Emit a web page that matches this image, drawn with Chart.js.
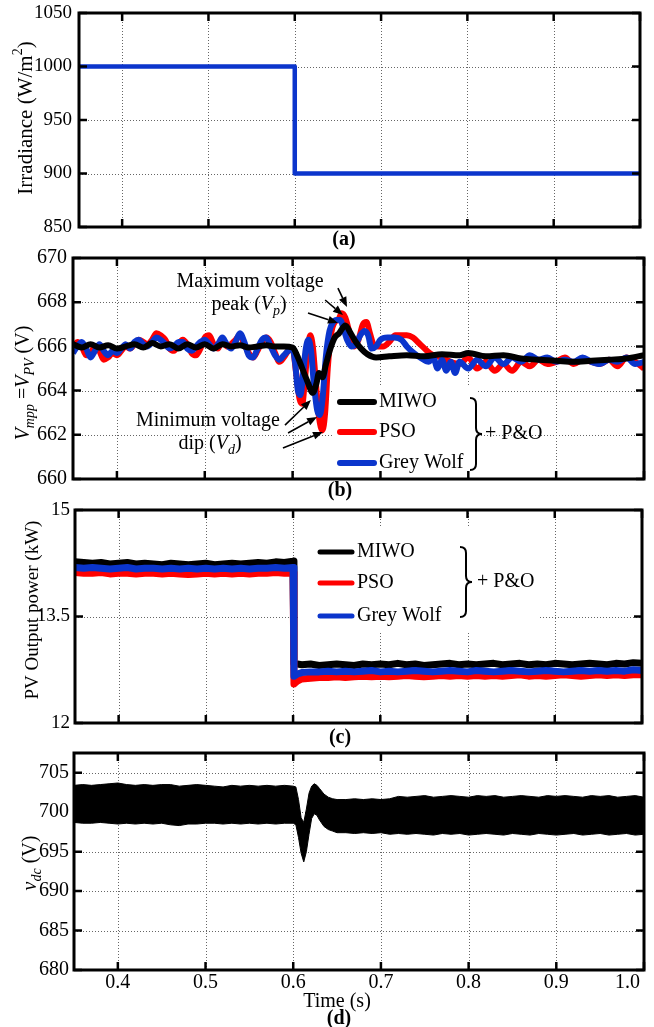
<!DOCTYPE html>
<html><head><meta charset="utf-8">
<title>PV MPPT comparison</title>
<script src="https://cdn.jsdelivr.net/npm/chart.js@4.4.1/dist/chart.umd.min.js"></script>
<style>
html,body{margin:0;padding:0;background:#fff;}
body{width:654px;height:1027px;position:relative;overflow:hidden;}
canvas{position:absolute;left:0;}
</style></head><body>
<canvas id="pa" width="654" height="252" style="top:0px"></canvas>
<canvas id="pb" width="654" height="258" style="top:245px"></canvas>
<canvas id="pc" width="654" height="253" style="top:497px"></canvas>
<canvas id="pd" width="654" height="287" style="top:740px"></canvas>
<script>
// ---------------- DATA ----------------
const timeTicks = [0.4,0.5,0.6,0.7,0.8,0.9,1.0];

// (a) irradiance
const irrTime  = [0.35, 0.6, 0.6, 1.0];
const irrValue = [1000, 1000, 900, 900];
const irrTicks = [850, 900, 950, 1000, 1050];

// (b) Vmpp = Vpv
const vTicks = [660, 662, 664, 666, 668, 670];
const tMIWO = [0.35,0.36,0.37,0.38,0.39,0.40,0.41,0.42,0.43,0.44,0.45,0.46,0.47,0.48,0.49,0.50,0.51,0.52,0.53,0.54,0.55,0.56,0.57,0.58,0.59,0.60,
  0.605,0.611,0.617,0.623,0.627,0.630,0.634,0.638,0.643,0.648,0.653,0.660,0.666,0.672,0.678,0.685,0.695,
  0.71,0.73,0.75,0.77,0.79,0.80,0.82,0.84,0.86,0.88,0.90,0.92,0.94,0.96,0.98,1.00];
const vMIWO = [666.1,665.95,666.1,665.95,666.05,665.9,666.0,666.1,665.95,666.15,666.0,666.1,665.9,666.1,665.95,666.1,665.9,666.1,666.0,666.05,665.95,666.0,666.05,666.0,666.0,665.95,
  665.6,665.0,664.4,663.9,664.3,664.8,664.6,665.2,665.9,666.4,666.6,666.95,666.6,666.2,665.9,665.65,665.5,
  665.55,665.6,665.55,665.65,665.6,665.7,665.55,665.6,665.45,665.4,665.35,665.3,665.35,665.4,665.45,665.6];
const tPSO = [0.35,0.355,0.36,0.365,0.37,0.375,0.38,0.385,0.39,0.395,
  0.40,0.405,0.41,0.415,0.42,0.425,0.43,0.435,0.44,0.445,
  0.45,0.455,0.46,0.465,0.47,0.475,0.48,0.485,0.49,0.495,
  0.50,0.505,0.51,0.515,0.52,0.525,0.53,0.535,0.54,0.545,
  0.55,0.555,0.56,0.565,0.57,0.575,0.58,0.585,0.59,0.595,
  0.60,0.604,0.608,0.611,0.614,0.617,0.62,0.623,0.626,0.63,
  0.634,0.637,0.64,0.644,0.648,0.652,0.656,0.66,0.665,0.67,
  0.675,0.68,0.684,0.688,0.692,0.697,0.703,0.71,0.717,0.724,
  0.73,0.737,0.745,0.753,0.76,0.77,0.78,0.79,0.80,0.81,
  0.82,0.83,0.84,0.85,0.86,0.87,0.88,0.89,0.90,0.91,
  0.92,0.93,0.94,0.95,0.96,0.97,0.98,0.99,1.00];
const vPSO = [665.9,666.2,666.0,665.6,665.7,666.0,665.8,665.4,665.5,665.7,
  665.6,665.8,666.0,665.9,666.1,666.3,666.2,666.1,666.3,666.6,
  666.5,666.3,665.9,665.8,666.1,666.3,666.1,665.7,665.6,665.9,
  666.4,666.5,666.1,665.9,666.3,666.0,666.1,666.3,666.5,666.1,
  665.7,665.5,665.8,666.2,666.4,666.2,665.7,665.3,665.5,665.8,
  665.9,664.8,663.6,663.4,664.5,665.8,666.5,666.0,664.6,662.8,
  662.2,663.0,665.0,666.6,667.1,667.2,667.5,667.3,666.6,666.0,
  666.3,667.0,667.1,666.6,666.1,666.0,666.0,666.2,666.5,666.5,
  666.5,666.4,666.1,665.8,665.6,665.5,665.3,665.2,665.5,665.0,
  665.3,664.9,665.2,664.9,665.3,665.1,665.4,665.2,665.3,665.5,
  665.2,665.4,665.3,665.2,665.4,665.1,665.5,665.3,665.0];
const tGWO = [0.35,0.355,0.36,0.365,0.37,0.375,0.38,0.385,0.39,0.395,
  0.40,0.405,0.41,0.415,0.42,0.425,0.43,0.435,0.44,0.445,
  0.45,0.455,0.46,0.465,0.47,0.475,0.48,0.485,0.49,0.495,
  0.50,0.505,0.51,0.515,0.52,0.525,0.53,0.535,0.54,0.545,
  0.55,0.555,0.56,0.565,0.57,0.575,0.58,0.585,0.59,0.595,
  0.60,0.603,0.606,0.609,0.612,0.615,0.618,0.621,0.624,0.628,
  0.631,0.634,0.638,0.642,0.646,0.65,0.654,0.658,0.662,0.667,
  0.672,0.677,0.682,0.686,0.69,0.695,0.70,0.708,0.716,0.724,
  0.73,0.738,0.745,0.755,0.76,0.765,0.77,0.775,0.78,0.785,
  0.79,0.80,0.81,0.82,0.83,0.84,0.85,0.86,0.87,0.88,
  0.89,0.90,0.91,0.92,0.93,0.94,0.95,0.96,0.97,0.98,
  0.99,1.00];
const vGWO = [665.7,666.0,666.2,665.9,665.5,665.8,666.1,665.8,665.6,665.8,
  665.7,665.9,666.1,665.9,666.2,666.3,666.1,666.0,666.2,666.4,
  666.3,666.1,665.9,666.0,666.2,666.2,665.9,665.8,666.0,666.2,
  666.3,666.1,665.9,666.1,666.4,666.1,665.9,666.2,666.6,666.2,
  665.6,665.5,665.9,666.3,666.4,666.0,665.6,665.4,665.6,665.8,
  665.9,665.2,664.0,663.8,664.8,665.9,666.3,665.8,664.4,663.1,
  662.9,663.6,665.6,666.7,667.1,667.2,667.2,666.8,666.3,666.0,
  666.1,666.5,666.7,666.5,665.9,666.0,666.3,666.4,666.4,666.3,
  666.0,665.7,665.5,665.3,665.5,665.0,665.4,664.9,665.3,664.8,
  665.3,665.0,665.4,665.1,665.5,665.2,665.5,665.3,665.6,665.4,
  665.5,665.3,665.4,665.3,665.5,665.3,665.2,665.4,665.3,665.5,
  665.2,665.3];

// (c) PV output power (kW)
const pTicks = [12, 13.5, 15];
const powerTime = [0.35,0.36,0.37,0.38,0.39,0.40,0.41,0.42,0.43,0.44,0.45,0.46,0.47,0.48,0.49,0.50,0.51,0.52,0.53,0.54,0.55,0.56,0.57,0.58,0.59,0.60,
  0.601,0.605,
  0.61,0.62,0.63,0.64,0.65,0.66,0.67,0.68,0.69,0.70,0.71,0.72,0.73,0.74,0.75,0.76,0.77,0.78,0.79,0.80,
  0.81,0.82,0.83,0.84,0.85,0.86,0.87,0.88,0.89,0.90,0.91,0.92,0.93,0.94,0.95,0.96,0.97,0.98,0.99,1.00];
const powerMIWO = [14.27,14.26,14.25,14.26,14.24,14.25,14.26,14.24,14.25,14.24,14.23,14.25,14.24,14.23,14.24,14.25,14.23,14.24,14.25,14.24,14.25,14.26,14.25,14.27,14.26,14.28,
  12.84,12.83,
  12.82,12.83,12.81,12.82,12.83,12.82,12.81,12.83,12.82,12.83,12.82,12.84,12.82,12.83,12.81,12.82,12.83,12.84,12.82,12.83,
  12.82,12.83,12.84,12.82,12.83,12.84,12.82,12.83,12.82,12.84,12.83,12.82,12.83,12.84,12.83,12.82,12.84,12.83,12.85,12.84];
const powerPSO = [14.12,14.11,14.11,14.12,14.10,14.11,14.11,14.10,14.11,14.11,14.10,14.11,14.10,14.09,14.10,14.11,14.10,14.11,14.10,14.11,14.10,14.11,14.11,14.12,14.11,14.12,
  12.55,12.59,
  12.62,12.63,12.64,12.64,12.65,12.64,12.65,12.66,12.65,12.66,12.65,12.66,12.67,12.66,12.65,12.66,12.67,12.66,12.67,12.66,
  12.67,12.66,12.67,12.66,12.67,12.68,12.66,12.67,12.66,12.67,12.68,12.67,12.66,12.67,12.68,12.67,12.68,12.67,12.68,12.68];
const powerGWO = [14.19,14.18,14.19,14.18,14.17,14.18,14.19,14.17,14.18,14.18,14.17,14.18,14.17,14.18,14.17,14.18,14.17,14.18,14.17,14.18,14.17,14.18,14.18,14.19,14.18,14.19,
  12.66,12.69,
  12.71,12.72,12.72,12.73,12.72,12.73,12.72,12.73,12.74,12.72,12.73,12.72,12.73,12.74,12.73,12.72,12.73,12.74,12.73,12.72,
  12.74,12.73,12.72,12.73,12.74,12.73,12.72,12.73,12.74,12.73,12.72,12.73,12.74,12.73,12.74,12.73,12.74,12.73,12.75,12.74];

// (d) DC-link voltage ripple envelope (V)
const vdcTicks = [680, 685, 690, 695, 700, 705];
const vdcTime = [0.35,0.36,0.37,0.38,0.39,0.40,0.41,0.42,0.43,0.44,0.45,0.46,0.47,0.48,0.49,0.50,0.51,0.52,0.53,0.54,0.55,0.56,0.57,0.58,0.59,0.60,
  0.603,0.606,0.609,0.612,0.615,0.618,0.621,0.624,0.627,0.630,0.635,0.64,0.645,0.65,
  0.66,0.67,0.68,0.69,0.70,0.71,0.72,0.73,0.74,0.75,0.76,0.77,0.78,0.79,0.80,0.81,0.82,0.83,0.84,0.85,
  0.86,0.87,0.88,0.89,0.90,0.91,0.92,0.93,0.94,0.95,0.96,0.97,0.98,0.99,1.00];
const vdcUpper = [703.4,703.5,703.4,703.5,703.6,703.7,703.5,703.4,703.5,703.4,703.5,703.5,703.3,703.4,703.5,703.4,703.3,703.2,703.4,703.3,703.4,703.3,703.4,703.3,703.4,703.3,
  703.2,701.6,699.3,698.7,700.4,702.4,703.3,703.6,703.4,703.0,702.3,701.9,701.7,701.6,
  701.6,701.7,701.6,701.7,701.6,701.7,702.0,701.9,702.0,702.1,701.9,702.0,702.1,702.0,701.9,702.1,702.0,702.1,701.9,702.0,
  702.1,702.0,701.9,702.1,702.0,702.1,702.0,701.9,702.1,702.0,702.1,701.9,702.0,702.1,701.9];
const vdcLower = [698.7,698.6,698.6,698.7,698.6,698.5,698.6,698.5,698.6,698.5,698.6,698.4,698.3,698.5,698.5,698.6,698.6,698.5,698.6,698.5,698.6,698.5,698.6,698.5,698.6,698.6,
  698.4,696.8,694.8,693.7,695.0,697.2,699.2,699.8,699.6,699.0,698.2,697.8,697.6,697.4,
  697.4,697.3,697.4,697.3,697.4,697.2,697.3,697.2,697.3,697.2,697.1,697.3,697.2,697.3,697.1,697.2,697.3,697.2,697.1,697.3,
  697.2,697.1,697.3,697.2,697.1,697.2,697.3,697.1,697.2,697.3,697.1,697.2,697.3,697.1,697.2];

// annotation arrows for (b), in data coordinates [t0, v0, t1, v1]
const peakArrows = [[0.6516,668.64,0.6619,667.78],[0.637,668.10,0.6573,667.42],[0.6175,667.51,0.6516,667.06]];
const dipArrows  = [[0.5913,662.44,0.6209,663.57],[0.5948,662.08,0.6278,662.81],[0.589,661.40,0.6346,662.13]];

// ---------------- DRAWING ----------------
const FF = '"Liberation Serif","Times New Roman",serif';
const BLUE = '#0b35cc', RED = '#ff0000', BLACK = '#000000';
const pts = (xs, ys) => xs.map((x, i) => ({x: x, y: ys[i]}));

function rich(ctx, segs, x, y, size, rot, align) {
  ctx.save();
  ctx.translate(x, y);
  if (rot) ctx.rotate(rot);
  let w = 0;
  const parts = segs.map(s => {
    const sz = (s.sub || s.sup) ? Math.round(size * 0.68) : size;
    const font = (s.b ? 'bold ' : '') + (s.i ? 'italic ' : '') + sz + 'px ' + FF;
    ctx.font = font;
    const m = ctx.measureText(s.t).width;
    w += m;
    return {t: s.t, font: font, w: m, dy: s.sub ? size * 0.3 : (s.sup ? -size * 0.36 : 0)};
  });
  let cx = align === 'left' ? 0 : -w / 2;
  ctx.textBaseline = 'middle'; ctx.textAlign = 'left'; ctx.fillStyle = '#000';
  for (const p of parts) { ctx.font = p.font; ctx.fillText(p.t, cx, p.dy); cx += p.w; }
  ctx.restore();
}
function arrow(ctx, x1, y1, x2, y2) {
  const ang = Math.atan2(y2 - y1, x2 - x1), L = 10, H = 4;
  ctx.save();
  ctx.strokeStyle = '#000'; ctx.fillStyle = '#000'; ctx.lineWidth = 1.6;
  ctx.beginPath(); ctx.moveTo(x1, y1);
  ctx.lineTo(x2 - L * Math.cos(ang), y2 - L * Math.sin(ang)); ctx.stroke();
  ctx.beginPath(); ctx.moveTo(x2, y2);
  ctx.lineTo(x2 - L * Math.cos(ang) + H * Math.sin(ang), y2 - L * Math.sin(ang) - H * Math.cos(ang));
  ctx.lineTo(x2 - L * Math.cos(ang) - H * Math.sin(ang), y2 - L * Math.sin(ang) + H * Math.cos(ang));
  ctx.closePath(); ctx.fill();
  ctx.restore();
}
function brace(ctx, x, y1, y2, w) {
  const ym = (y1 + y2) / 2, r = w / 2;
  ctx.save();
  ctx.strokeStyle = '#000'; ctx.lineWidth = 2;
  ctx.beginPath();
  ctx.moveTo(x, y1);
  ctx.quadraticCurveTo(x + r, y1, x + r, y1 + r);
  ctx.lineTo(x + r, ym - r);
  ctx.quadraticCurveTo(x + r, ym, x + w, ym);
  ctx.quadraticCurveTo(x + r, ym, x + r, ym + r);
  ctx.lineTo(x + r, y2 - r);
  ctx.quadraticCurveTo(x + r, y2, x, y2);
  ctx.stroke();
  ctx.restore();
}
function legend(ctx, x0, ys, names, colors, lw, len, bx, by1, by2, bw, pox, size) {
  ctx.save();
  for (let i = 0; i < names.length; i++) {
    ctx.strokeStyle = colors[i]; ctx.lineWidth = lw; ctx.lineCap = 'round';
    ctx.beginPath(); ctx.moveTo(x0, ys[i]); ctx.lineTo(x0 + len, ys[i]); ctx.stroke();
    rich(ctx, [{t: names[i]}], x0 + len + 5, ys[i], size, 0, 'left');
  }
  ctx.restore();
  brace(ctx, bx, by1, by2, bw);
  rich(ctx, [{t: '+ P&O'}], pox, (by1 + by2) / 2, size, 0, 'left');
}

const EXTRA = {};
const deco = {
  id: 'deco',
  beforeDatasetsDraw(chart) {
    const e = EXTRA[chart.canvas.id]; if (!e) return;
    const {ctx, chartArea: a, scales: {x, y}} = chart;
    ctx.save();
    ctx.strokeStyle = '#666'; ctx.lineWidth = 1; ctx.setLineDash([1, 2]);
    ctx.beginPath();
    for (const v of timeTicks) { const px = Math.round(x.getPixelForValue(v)) + 0.5; if (px > a.left + 3 && px < a.right - 3) { ctx.moveTo(px, a.top); ctx.lineTo(px, a.bottom); } }
    for (const v of e.yTicks) { const py = Math.round(y.getPixelForValue(v)) + 0.5; if (py > a.top + 3 && py < a.bottom - 3) { ctx.moveTo(a.left, py); ctx.lineTo(a.right, py); } }
    ctx.stroke();
    ctx.restore();
    if (e.box) { ctx.save(); ctx.fillStyle = '#fff'; ctx.fillRect(e.box[0], e.box[1], e.box[2] - e.box[0], e.box[3] - e.box[1]); ctx.restore(); }
  },
  afterDatasetsDraw(chart) {
    const e = EXTRA[chart.canvas.id]; if (!e) return;
    const {ctx, chartArea: a, scales: {x, y}} = chart;
    ctx.save();
    ctx.strokeStyle = '#000'; ctx.setLineDash([]);
    ctx.lineWidth = 2.5;
    ctx.beginPath();
    for (const v of timeTicks) { const px = x.getPixelForValue(v); ctx.moveTo(px, a.bottom); ctx.lineTo(px, a.bottom - 8); ctx.moveTo(px, a.top); ctx.lineTo(px, a.top + 8); }
    for (const v of e.yTicks) { const py = y.getPixelForValue(v); ctx.moveTo(a.left, py); ctx.lineTo(a.left + 8, py); ctx.moveTo(a.right, py); ctx.lineTo(a.right - 8, py); }
    ctx.stroke();
    ctx.lineWidth = 3;
    ctx.strokeRect(a.left, a.top, a.right - a.left, a.bottom - a.top);
    ctx.restore();
    rich(ctx, e.ytitle, e.ytx, e.yty, e.ytSize, -Math.PI / 2);
    rich(ctx, [{t: e.tag, b: 1}], e.tagX, e.tagY, 20, 0);
    if (e.draw) e.draw(ctx, a, x, y);
  }
};

function buildPanel(id, g, cfg) {
  EXTRA[id] = cfg.extra;
  return new Chart(document.getElementById(id), {
    type: 'line',
    data: {datasets: cfg.datasets},
    options: {
      responsive: false, animation: false, events: [],
      layout: {padding: {top: g.T - g.top, right: 654 - g.R, left: 0, bottom: 0}},
      plugins: {legend: {display: false}, tooltip: {enabled: false}},
      elements: {point: {radius: 0, hoverRadius: 0}, line: {borderCapStyle: 'butt', borderJoinStyle: 'round'}},
      scales: {
        x: {type: 'linear', min: 0.35, max: 1.0,
          afterBuildTicks: s => { s.ticks = timeTicks.map(v => ({value: v})); },
          afterFit: s => { s.height = g.top + g.h - g.B; s.paddingLeft = 0; s.paddingRight = 0; },
          grid: {display: false, drawTicks: false}, border: {display: false}, ticks: {display: false}},
        y: {type: 'linear', min: cfg.yMin, max: cfg.yMax,
          afterBuildTicks: s => { s.ticks = cfg.yTicks.map(v => ({value: v})); },
          afterFit: s => { s.width = g.L; s.paddingTop = 0; s.paddingBottom = 0; },
          grid: {display: false, drawTicks: false}, border: {display: false},
          ticks: {color: '#000', font: {family: FF, size: cfg.tickSize}, padding: cfg.tickPad, callback: v => String(v)}}
      }
    },
    plugins: [deco]
  });
}

// (a)
buildPanel('pa', {top: 0, h: 252, L: 79, R: 640, T: 13, B: 227}, {
  yMin: 850, yMax: 1050, yTicks: irrTicks, tickSize: 19, tickPad: 7,
  datasets: [{data: pts(irrTime, irrValue), borderColor: BLUE, borderWidth: 4.5, tension: 0, fill: false}],
  extra: {yTicks: irrTicks, ytitle: [{t: 'Irradiance (W/m'}, {t: '2', sup: 1}, {t: ')'}], ytx: 26, yty: 118, ytSize: 21,
    tag: '(a)', tagX: 344, tagY: 240}
});

// (b)
buildPanel('pb', {top: 245, h: 258, L: 73, R: 644, T: 258, B: 479}, {
  yMin: 660, yMax: 670, yTicks: vTicks, tickSize: 20, tickPad: 6,
  datasets: [
    {data: pts(tMIWO, vMIWO), borderColor: BLACK, borderWidth: 6, cubicInterpolationMode: 'monotone', fill: false},
    {data: pts(tGWO, vGWO), borderColor: BLUE, borderWidth: 6, cubicInterpolationMode: 'monotone', fill: false},
    {data: pts(tPSO, vPSO), borderColor: RED, borderWidth: 6, cubicInterpolationMode: 'monotone', fill: false}
  ],
  extra: {yTicks: vTicks,
    ytitle: [{t: 'V', i: 1}, {t: 'mpp', i: 1, sub: 1}, {t: ' ='}, {t: 'V', i: 1}, {t: 'PV', i: 1, sub: 1}, {t: ' (V)'}],
    ytx: 24, yty: 138, ytSize: 20, tag: '(b)', tagX: 340, tagY: 246,
    box: [333, 142, 476, 234],
    draw: (ctx, a, x, y) => {
      for (const r of peakArrows) arrow(ctx, x.getPixelForValue(r[0]), y.getPixelForValue(r[1]), x.getPixelForValue(r[2]), y.getPixelForValue(r[3]));
      for (const r of dipArrows) arrow(ctx, x.getPixelForValue(r[0]), y.getPixelForValue(r[1]), x.getPixelForValue(r[2]), y.getPixelForValue(r[3]));
      rich(ctx, [{t: 'Maximum voltage'}], x.getPixelForValue(0.5515), y.getPixelForValue(668.91), 20, 0);
      rich(ctx, [{t: 'peak ('}, {t: 'V', i: 1}, {t: 'p', i: 1, sub: 1}, {t: ')'}], x.getPixelForValue(0.5504), y.getPixelForValue(667.87), 20, 0);
      rich(ctx, [{t: 'Minimum voltage'}], x.getPixelForValue(0.5036), y.getPixelForValue(662.62), 20, 0);
      rich(ctx, [{t: 'dip ('}, {t: 'V', i: 1}, {t: 'd', i: 1, sub: 1}, {t: ')'}], x.getPixelForValue(0.506), y.getPixelForValue(661.58), 20, 0);
      legend(ctx, 340, [157, 187, 218], ['MIWO', 'PSO', 'Grey Wolf'], [BLACK, RED, BLUE], 6, 34, 470, 153, 225, 12, 485, 20);
    }
  }
});

// (c)
buildPanel('pc', {top: 497, h: 253, L: 75, R: 642, T: 510, B: 723}, {
  yMin: 12, yMax: 15, yTicks: pTicks, tickSize: 19, tickPad: 5,
  datasets: [
    {data: pts(powerTime, powerGWO), borderColor: BLUE, borderWidth: 7, tension: 0, fill: false},
    {data: pts(powerTime, powerPSO), borderColor: RED, borderWidth: 7, tension: 0, fill: false},
    {data: pts(powerTime, powerMIWO), borderColor: BLACK, borderWidth: 7, tension: 0, fill: false}
  ],
  extra: {yTicks: pTicks, ytitle: [{t: 'PV Output power (kW)'}], ytx: 33, yty: 113, ytSize: 19,
    tag: '(c)', tagX: 340, tagY: 241,
    box: [300, 30, 538, 136],
    draw: (ctx) => {
      legend(ctx, 320, [55, 86, 119], ['MIWO', 'PSO', 'Grey Wolf'], [BLACK, RED, BLUE], 5, 32, 460, 50, 120, 12, 477, 20);
    }
  }
});

// (d)
buildPanel('pd', {top: 740, h: 287, L: 74, R: 644, T: 753, B: 970}, {
  yMin: 680, yMax: 707.5, yTicks: vdcTicks, tickSize: 20, tickPad: 5,
  datasets: [
    {data: pts(vdcTime, vdcUpper), borderColor: BLACK, backgroundColor: BLACK, borderWidth: 1, tension: 0, fill: '+1'},
    {data: pts(vdcTime, vdcLower), borderColor: BLACK, borderWidth: 1, tension: 0, fill: false}
  ],
  extra: {yTicks: vdcTicks, ytitle: [{t: 'v', i: 1}, {t: 'dc', i: 1, sub: 1}, {t: ' (V)'}], ytx: 31, yty: 123, ytSize: 20,
    tag: '(d)', tagX: 339, tagY: 279,
    draw: (ctx, a, x) => {
      ctx.save();
      ctx.font = '20px ' + FF; ctx.fillStyle = '#000'; ctx.textBaseline = 'middle'; ctx.textAlign = 'center';
      for (const v of timeTicks) {
        const s = v.toFixed(1), w = ctx.measureText(s).width;
        let cx = x.getPixelForValue(v);
        if (cx + w / 2 > a.right - 4) cx = a.right - 4 - w / 2;
        ctx.fillText(s, cx, a.bottom + 13);
      }
      ctx.restore();
      rich(ctx, [{t: 'Time (s)'}], 337, a.bottom + 32, 20, 0);
    }
  }
});
</script>
</body></html>
